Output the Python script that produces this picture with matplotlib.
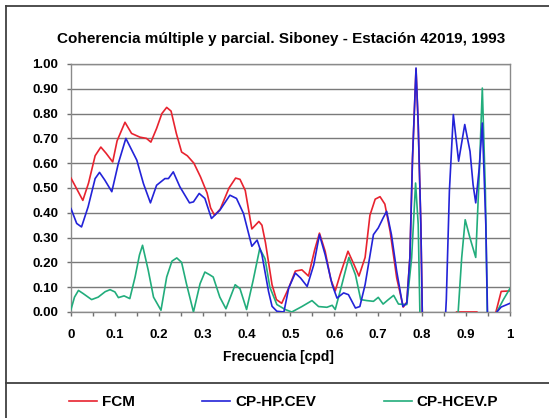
"""Coherencia multiple y parcial - Siboney, Estacion 42019 (1993)."""

import matplotlib

matplotlib.use("Agg")

import matplotlib.pyplot as plt
import numpy as np
from matplotlib.lines import Line2D

plt.rcParams["font.family"] = ["Liberation Sans", "DejaVu Sans"]
plt.rcParams["font.weight"] = "bold"

TITLE = "Coherencia múltiple y parcial. Siboney - Estación 42019, 1993"
X_LABEL = "Frecuencia [cpd]"
SERIES_NAMES = ["FCM", "CP-HP.CEV", "CP-HCEV.P"]

# values below zero fall outside the axis (the chart clips them)
fcm_freq = [
    0.0, 0.012, 0.027, 0.04, 0.055, 0.068, 0.08, 0.095, 0.105, 0.123,
    0.138, 0.157, 0.172, 0.182, 0.195, 0.207, 0.218, 0.228, 0.24, 0.252,
    0.265, 0.28, 0.295, 0.31, 0.318, 0.327, 0.34, 0.36, 0.375, 0.385,
    0.397, 0.412, 0.428, 0.435, 0.443, 0.458, 0.468, 0.48, 0.496, 0.511,
    0.526, 0.541, 0.555, 0.566, 0.579, 0.592, 0.602, 0.613, 0.631, 0.645,
    0.656, 0.67, 0.681, 0.693, 0.704, 0.715, 0.727, 0.742, 0.757, 0.765,
    0.772, 0.778, 0.786, 0.791, 0.797, 0.803, 0.86, 0.878, 0.925, 0.94,
    0.96, 0.968, 0.98, 1.0,
]
fcm = [
    0.54, 0.50, 0.45, 0.52, 0.63, 0.665, 0.64, 0.605, 0.69, 0.765,
    0.72, 0.705, 0.70, 0.685, 0.74, 0.80, 0.825, 0.81, 0.72, 0.645,
    0.63, 0.60, 0.545, 0.48, 0.42, 0.39, 0.415, 0.50, 0.54, 0.535,
    0.49, 0.335, 0.365, 0.35, 0.28, 0.11, 0.05, 0.035, 0.097, 0.165,
    0.17, 0.145, 0.25, 0.318, 0.245, 0.13, 0.085, 0.15, 0.245, 0.19,
    0.145, 0.22, 0.39, 0.455, 0.465, 0.435, 0.325, 0.137, 0.02, 0.04,
    0.22, 0.62, 0.98, 0.755, 0.35, -0.3, -0.3, 0.0, 0.0, -0.3,
    -0.3, 0.0, 0.083, 0.085,
]

hp_freq = [
    0.0, 0.013, 0.024, 0.039, 0.055, 0.065, 0.077, 0.093, 0.108, 0.125,
    0.15, 0.165, 0.181, 0.195, 0.214, 0.222, 0.233, 0.248, 0.27, 0.279,
    0.292, 0.305, 0.32, 0.339, 0.362, 0.377, 0.393, 0.412, 0.424, 0.435,
    0.45, 0.458, 0.469, 0.485, 0.496, 0.511, 0.523, 0.538, 0.553, 0.566,
    0.579, 0.595, 0.606, 0.621, 0.632, 0.648, 0.658, 0.67, 0.689, 0.70,
    0.711, 0.719, 0.73, 0.742, 0.756, 0.765, 0.772, 0.778, 0.786, 0.791,
    0.797, 0.803, 0.845, 0.855, 0.862, 0.871, 0.883, 0.897, 0.909, 0.916,
    0.922, 0.93, 0.937, 0.945, 0.952, 0.962, 0.97, 0.98, 1.0,
]
hp_cev = [
    0.417, 0.357, 0.343, 0.424, 0.538, 0.563, 0.532, 0.485, 0.60, 0.70,
    0.612, 0.518, 0.44, 0.511, 0.538, 0.538, 0.565, 0.505, 0.44, 0.444,
    0.478, 0.458, 0.377, 0.41, 0.471, 0.458, 0.397, 0.265, 0.29, 0.231,
    0.083, 0.023, 0.003, 0.0, 0.097, 0.157, 0.137, 0.103, 0.19, 0.312,
    0.231, 0.11, 0.056, 0.077, 0.07, 0.016, 0.022, 0.11, 0.312, 0.339,
    0.379, 0.406, 0.312, 0.164, 0.022, 0.036, 0.218, 0.62, 0.984, 0.755,
    0.352, -0.3, -0.3, 0.05, 0.487, 0.796, 0.608, 0.756, 0.648, 0.513,
    0.44, 0.58, 0.762, 0.352, -0.3, -0.3, 0.0, 0.02, 0.035,
]

hcev_freq = [
    0.0, 0.008, 0.017, 0.028, 0.047, 0.062, 0.078, 0.089, 0.1, 0.108,
    0.121, 0.134, 0.146, 0.156, 0.163, 0.176, 0.188, 0.205, 0.218, 0.23,
    0.241, 0.252, 0.263, 0.279, 0.294, 0.305, 0.316, 0.324, 0.339, 0.353,
    0.374, 0.385, 0.4, 0.415, 0.43, 0.442, 0.453, 0.469, 0.488, 0.503,
    0.526, 0.549, 0.564, 0.583, 0.595, 0.602, 0.617, 0.633, 0.648, 0.66,
    0.674, 0.689, 0.70, 0.711, 0.723, 0.735, 0.746, 0.765, 0.776, 0.785,
    0.791, 0.798, 0.875, 0.882, 0.89, 0.898, 0.909, 0.922, 0.93, 0.937,
    0.944, 0.951, 0.962, 0.97, 0.985, 1.0,
]
hcev_p = [
    0.01, 0.06, 0.087, 0.074, 0.05, 0.06, 0.082, 0.09, 0.081, 0.058,
    0.065, 0.054, 0.141, 0.23, 0.269, 0.168, 0.06, 0.007, 0.141, 0.205,
    0.218, 0.2, 0.114, 0.0, 0.114, 0.161, 0.15, 0.141, 0.06, 0.013,
    0.11, 0.094, 0.01, 0.128, 0.256, 0.215, 0.1, 0.03, 0.01, 0.0,
    0.022, 0.046, 0.022, 0.019, 0.027, 0.01, 0.11, 0.22, 0.15, 0.05,
    0.046, 0.043, 0.059, 0.032, 0.05, 0.067, 0.032, 0.03, 0.218, 0.52,
    0.352, -0.3, -0.3, 0.0, 0.218, 0.372, 0.298, 0.22, 0.554, 0.903,
    0.486, -0.3, -0.3, 0.0, 0.05, 0.095,
]

COLORS = {"FCM": "#e8232f", "CP-HP.CEV": "#2323d8", "CP-HCEV.P": "#22ad7c"}


def main() -> None:
    fig = plt.figure(figsize=(5.49, 4.18), dpi=100)
    ax = fig.add_axes([0.1293, 0.2536, 0.7996, 0.5933])

    l_fcm, = ax.plot(fcm_freq, fcm, color=COLORS["FCM"], lw=1.2, zorder=3)
    l_hcev, = ax.plot(hcev_freq, hcev_p, color=COLORS["CP-HCEV.P"], lw=1.2, zorder=4)
    l_hp, = ax.plot(hp_freq, hp_cev, color=COLORS["CP-HP.CEV"], lw=1.2, zorder=5)

    ax.set_xlim(0, 1)
    ax.set_ylim(0, 1)
    y_ticks = np.arange(0, 1.01, 0.1)
    ax.set_yticks(y_ticks)
    ax.set_yticklabels([f"{v:.2f}" for v in y_ticks])
    x_ticks = np.arange(0, 1.01, 0.05)
    ax.set_xticks(x_ticks)
    ax.set_xticklabels(
        [f"{v:.1f}".replace("0.0", "0").replace("1.0", "1") if i % 2 == 0 else ""
         for i, v in enumerate(x_ticks)]
    )
    ax.tick_params(axis="both", labelsize=9.5, length=3, color="#707070", width=1)
    ax.tick_params(axis="x", pad=9)
    ax.tick_params(axis="y", pad=6)
    for label in ax.get_xticklabels() + ax.get_yticklabels():
        label.set_fontweight("bold")

    ax.grid(axis="y", color="#7a7a7a", lw=1.0)
    ax.set_axisbelow(True)
    for spine in ax.spines.values():
        spine.set_color("#8a8a8a")
        spine.set_linewidth(1.0)

    ax.set_xlabel(X_LABEL, fontsize=10, fontweight="bold")
    ax.xaxis.set_label_coords(0.4715, -0.155)
    fig.text(0.512, 1 - 39 / 418, TITLE, ha="center", va="center",
             fontsize=11, fontweight="bold")

    # outer chart frame and legend separator
    frame_color = "#404040"
    fig.add_artist(Line2D([0.011, 1.0], [0.9856, 0.9856], color=frame_color, lw=1.3))
    fig.add_artist(Line2D([0.011, 0.011], [0.0, 0.9856], color=frame_color, lw=1.3))
    fig.add_artist(Line2D([0.011, 1.0], [0.0837, 0.0837], color=frame_color, lw=1.3))

    fig.legend(
        [l_fcm, l_hp, l_hcev], SERIES_NAMES,
        loc="center", bbox_to_anchor=(283.5 / 549, 1 - 402 / 418), ncol=3,
        frameon=False, handlelength=1.85, handletextpad=0.33, columnspacing=4.4,
        prop={"size": 11, "weight": "bold"},
    )

    fig.savefig("out.png", dpi=100)
    plt.close(fig)


if __name__ == "__main__":
    main()
